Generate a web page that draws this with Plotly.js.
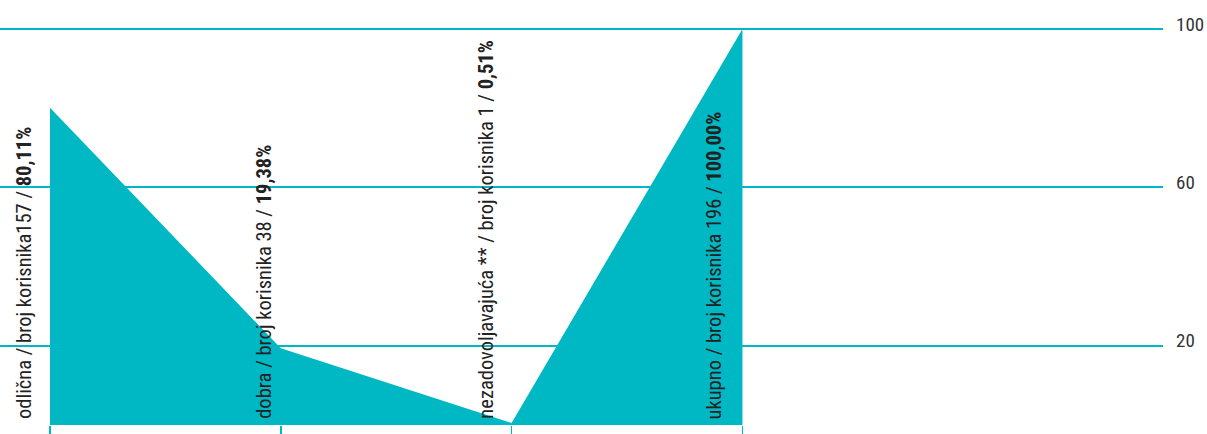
<!DOCTYPE html>
<html>
<head>
<meta charset="utf-8">
<script src="https://cdn.plot.ly/plotly-3.0.1.min.js"></script>
<style>html,body{margin:0;padding:0;background:#fff;}#chart{width:1207px;height:434px;}</style>
</head>
<body>
<div id="chart"></div>
<script>
const categories = ["odlična", "dobra", "nezadovoljavajuća **", "ukupno"];
const userCounts = ["157", " 38", " 1", " 196"];
const percentValues = [80.11, 19.38, 0.51, 100.00];
const percentLabels = ["80,11%", "19,38%", "0,51%", "100,00%"];
const yTickValues = [20, 60, 100];

const TEAL = "#00b7c4";
const FONT = "'Roboto Condensed', 'Liberation Sans Narrow', 'DejaVu Sans Condensed', sans-serif";
const xIdx = categories.map((c, i) => i);
const labelShift = [-26, -17, -26, -28];

const trace = {
  x: xIdx,
  y: percentValues,
  type: "scatter",
  mode: "lines",
  fill: "tozeroy",
  fillcolor: TEAL,
  line: {width: 0, color: TEAL},
  hoverinfo: "skip"
};

const annotations = categories.map((c, i) => ({
  x: i, y: 0, xref: "x", yref: "y",
  text: c + " / broj korisnika" + userCounts[i] + " / <b>" + percentLabels[i] + "</b>",
  textangle: -90,
  showarrow: false,
  xanchor: "center", yanchor: "bottom",
  xshift: labelShift[i], yshift: 4,
  font: {family: FONT, size: 20.5, color: "#222"}
}));

const layout = {
  width: 1207, height: 434,
  margin: {l: 0, r: 44, t: 27, b: 9},
  paper_bgcolor: "#fff", plot_bgcolor: "#fff",
  showlegend: false,
  xaxis: {
    range: [-0.2166, 4.822],
    tickvals: xIdx, ticktext: xIdx.map(() => ""),
    ticks: "outside", ticklen: 9, tickwidth: 1.5, tickcolor: TEAL,
    showgrid: false, zeroline: false, showline: false, fixedrange: true
  },
  yaxis: {
    range: [0, 100.505], side: "right",
    tickvals: yTickValues, ticktext: yTickValues.map(String),
    showgrid: true, gridcolor: TEAL, gridwidth: 2,
    zeroline: false, showline: false, ticks: "",
    ticklabelstandoff: 12, ticklabelshift: -5,
    tickfont: {family: FONT, size: 19, color: "#333"}
  },
  annotations: annotations
};

Plotly.newPlot("chart", [trace], layout, {displayModeBar: false, staticPlot: true});
</script>
</body>
</html>
